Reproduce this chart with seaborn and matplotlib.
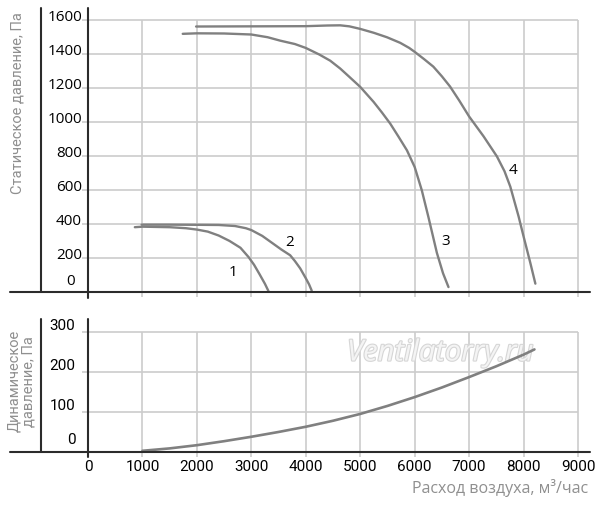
import seaborn as sns
import matplotlib.pyplot as plt
import matplotlib.patheffects as pe
import pandas as pd

# static pressure curves, flow in m3/h, pressure in Pa
flow_1 = [860, 1000, 1500, 1800, 2000, 2200, 2400, 2600, 2800, 2950, 3050, 3150, 3250, 3315]
static_1 = [381, 384, 381, 375, 367, 355, 332, 300, 260, 205, 160, 105, 48, 5]

flow_2 = [985, 1500, 2000, 2400, 2700, 2900, 3000, 3200, 3406, 3550, 3713, 3800, 3897,
          4000, 4060, 4109]
static_2 = [396, 396, 395, 394, 388, 375, 364, 330, 283, 250, 216, 182, 139, 81, 45, 8]

flow_3 = [1740, 2000, 2500, 3000, 3300, 3529, 3800, 4000, 4250, 4449, 4632, 4800, 5000,
          5245, 5400, 5551, 5700, 5858, 6000, 6131, 6253, 6408, 6521, 6621]
static_3 = [1518, 1521, 1520, 1514, 1498, 1478, 1458, 1435, 1396, 1360, 1314, 1265, 1206,
            1118, 1055, 990, 915, 833, 735, 598, 440, 230, 110, 29]

flow_4 = [1985, 3000, 4000, 4400, 4632, 4800, 5000, 5250, 5490, 5735, 5900, 6000, 6170,
          6343, 6500, 6650, 6820, 7000, 7266, 7511, 7650, 7756, 7909, 8000, 8125, 8217]
static_4 = [1561, 1562, 1563, 1567, 1568, 1562, 1547, 1524, 1498, 1465, 1435, 1412, 1370,
            1325, 1268, 1208, 1125, 1032, 915, 797, 710, 620, 444, 327, 170, 49]

# curve labels
curve_names = ["1", "2", "3", "4"]
label_flow = [2665, 3700, 6576, 7801]
label_static = [115, 292, 294, 716]

# dynamic pressure
flow_dyn = [1000, 1500, 2000, 2500, 3000, 3500, 4000, 4500, 5000, 5500, 6000, 6500,
            7000, 7500, 8000, 8200]
dynamic = [3, 9, 17, 27, 38, 50, 63, 78, 95, 115, 137, 161, 187, 214, 243, 256]

flow_ticks = [0, 1000, 2000, 3000, 4000, 5000, 6000, 7000, 8000, 9000]
static_ticks = [0, 200, 400, 600, 800, 1000, 1200, 1400, 1600]
dynamic_ticks = [0, 100, 200, 300]

sns.set_theme(style="white")
plt.rcParams['font.family'] = ['Open Sans', 'DejaVu Sans']
narrow = ['Roboto', 'Open Sans', 'DejaVu Sans']

curve_color = '#808080'
grid_color = '#cccccc'
axis_color = '#2b2b2b'
title_color = '#8f8f8f'

fig = plt.figure(figsize=(6, 5.05), dpi=100)
ax_top = fig.add_axes([0.14667, 0.4218, 0.81667, 0.5624])
ax_bot = fig.add_axes([0.14667, 0.10495, 0.81667, 0.2634])

static_df = pd.concat([
    pd.DataFrame({"flow": f, "pressure": p, "curve": n})
    for f, p, n in zip([flow_1, flow_2, flow_3, flow_4],
                       [static_1, static_2, static_3, static_4], curve_names)
])
dyn_df = pd.DataFrame({"flow": flow_dyn, "pressure": dynamic})

# top panel
ax_top.set_xlim(0, 9000)
ax_top.set_ylim(0, 1670)
ax_top.hlines(static_ticks[1:], -110, 9000, color=grid_color, lw=1.2, clip_on=False, zorder=1)
ax_top.vlines(flow_ticks[1:], -30, 1600, color=grid_color, lw=1.2, clip_on=False, zorder=1)
sns.lineplot(data=static_df, x="flow", y="pressure", units="curve", estimator=None,
             sort=False, color=curve_color, lw=1.7, ax=ax_top, zorder=3,
             solid_joinstyle='round')
ax_top.axhline(0, xmin=-0.159, xmax=1.0245, color=axis_color, lw=1.5, clip_on=False, zorder=4)
ax_top.axvline(0, ymin=-0.02, ymax=1, color=axis_color, lw=1.5, clip_on=False, zorder=4)
ax_top.axvline(-863, ymin=0, ymax=1, color=axis_color, lw=1.5, clip_on=False, zorder=4)
for v in static_ticks:
    if v == 0:
        ax_top.text(-240, 20, "0", ha='right', va='bottom', fontsize=11, color='black')
    else:
        ax_top.text(-110, v + 12, str(v), ha='right', va='center', fontsize=11, color='black')
for n, x, y in zip(curve_names, label_flow, label_static):
    ax_top.text(x, y, n, ha='center', va='center', fontsize=11, color='black')
ax_top.text(-1295, 1108, "Статическое давление, Па", rotation=90, ha='center', va='center',
            fontsize=10.5, color=title_color, family=narrow, clip_on=False)

# bottom panel
ax_bot.set_xlim(0, 9000)
ax_bot.set_ylim(0, 332)
ax_bot.hlines(dynamic_ticks[1:], -110, 9000, color=grid_color, lw=1.2, clip_on=False, zorder=1)
ax_bot.vlines(flow_ticks[1:], -12, 300, color=grid_color, lw=1.2, clip_on=False, zorder=1)
ax_bot.text(6466, 247, "Ventilatorry.ru", ha='center', va='center', fontsize=21,
            style='italic', color='#f4f4f4', zorder=2,
            path_effects=[pe.withStroke(linewidth=1.6, foreground='#d6d6d6')])
sns.lineplot(data=dyn_df, x="flow", y="pressure", estimator=None, sort=False,
             color=curve_color, lw=1.9, ax=ax_bot, zorder=3, solid_joinstyle='round')
ax_bot.axhline(0, xmin=-0.159, xmax=1.0245, color=axis_color, lw=1.5, clip_on=False, zorder=4)
ax_bot.axvline(0, ymin=-0.04, ymax=1, color=axis_color, lw=1.5, clip_on=False, zorder=4)
ax_bot.axvline(-863, ymin=0, ymax=1, color=axis_color, lw=1.5, clip_on=False, zorder=4)
for v in dynamic_ticks:
    yy = 30 if v == 0 else v + 15
    ax_bot.text(-230, yy, str(v), ha='right', va='center', fontsize=11, color='black',
                family=narrow)
ax_bot.text(-1230, 177, "Динамическое\nдавление, Па", rotation=90, ha='center', va='center',
            fontsize=10.5, color=title_color, family=narrow, linespacing=1.05, clip_on=False)

ax_bot.set_xticks(flow_ticks)
ax_bot.set_xticklabels([str(v) for v in flow_ticks], family=narrow, fontsize=11)
ax_bot.tick_params(axis='x', length=0, pad=6, colors='black')
ax_bot.set_yticks([])
ax_top.set_xticks([])
ax_top.set_yticks([])
for ax in (ax_top, ax_bot):
    ax.set_xlabel("")
    ax.set_ylabel("")
    for s in ax.spines.values():
        s.set_visible(False)
    ax.patch.set_alpha(0)

fig.text(0.98, 0.034, "Расход воздуха, м³/час", ha='right', va='center',
         fontsize=11.5, color=title_color)

fig.savefig("out.png", dpi=100)
